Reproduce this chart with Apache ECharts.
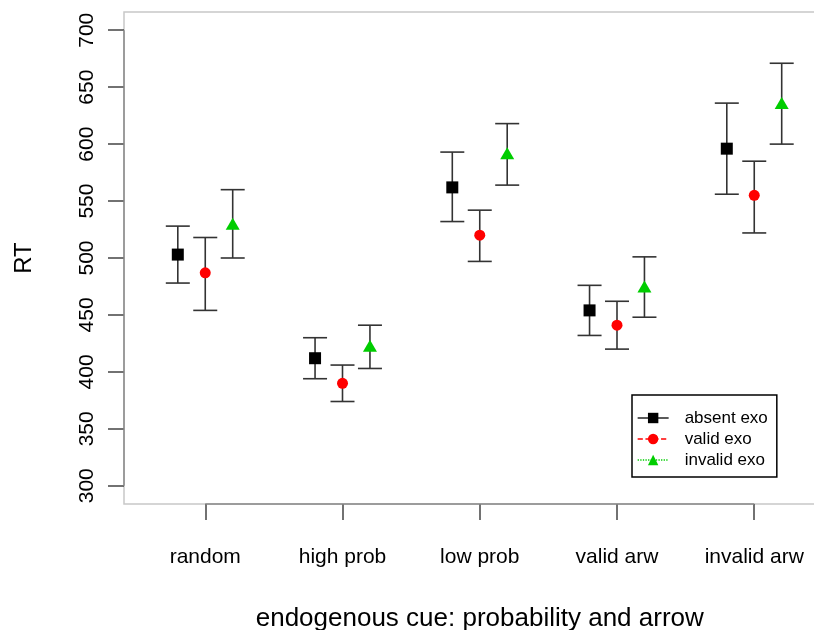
<!DOCTYPE html>
<html>
<head>
<meta charset="utf-8">
<script src="https://cdn.jsdelivr.net/npm/echarts@6/dist/echarts.min.js"></script>
<style>
  html, body { margin: 0; padding: 0; background: #fff; overflow: hidden; }
  #chart { width: 814px; height: 630px; }
</style>
</head>
<body>
<div id="chart"></div>
<script>
// cue categories and tick values
const categories = ['random', 'high prob', 'low prob', 'valid arw', 'invalid arw'];
const yTicks = [300, 350, 400, 450, 500, 550, 600, 650, 700];

// mean RT and error bar limits per exo condition
const absentMean = [503, 412, 562, 454, 596];
const absentLow = [478, 394, 532, 432, 556];
const absentHigh = [528, 430, 593, 476, 636];

const validMean = [487, 390, 520, 441, 555];
const validLow = [454, 374, 497, 420, 522];
const validHigh = [518, 406, 542, 462, 585];

const invalidMean = [530, 423, 592, 475, 636];
const invalidLow = [500, 403, 564, 448, 600];
const invalidHigh = [560, 441, 618, 501, 671];

const offsets = [-0.2, 0, 0.2];
const colors = ['#000000', '#ff0000', '#00cd00'];
const names = ['absent exo', 'valid exo', 'invalid exo'];

const means = [absentMean, validMean, invalidMean];
const lows = [absentLow, validLow, invalidLow];
const highs = [absentHigh, validHigh, invalidHigh];

const X_MIN = 0.408, X_MAX = 5.592;
const Y_MIN = 284, Y_MAX = 716;
const FONT = 'Liberation Sans, Arial, sans-serif';

let barData = [];
means.forEach((m, s) => {
  m.forEach((v, i) => {
    barData.push([i + 1 + offsets[s], lows[s][i], highs[s][i]]);
  });
});

function renderBar(params, api) {
  const x = api.value(0);
  const lo = api.coord([x, api.value(1)]);
  const hi = api.coord([x, api.value(2)]);
  const w = 12;
  const style = { stroke: '#333', lineWidth: 1.6 };
  return {
    type: 'group',
    children: [
      { type: 'line', shape: { x1: lo[0], y1: lo[1], x2: hi[0], y2: hi[1] }, style: style },
      { type: 'line', shape: { x1: lo[0] - w, y1: lo[1], x2: lo[0] + w, y2: lo[1] }, style: style },
      { type: 'line', shape: { x1: hi[0] - w, y1: hi[1], x2: hi[0] + w, y2: hi[1] }, style: style },
    ],
  };
}

const symbols = ['rect', 'circle', 'triangle'];
const symbolSizes = [12, 11, [14, 12]];
const lineTypes = ['solid', 'dashed', 'dotted'];

let pointSeries = means.map((m, s) => ({
  name: names[s],
  type: 'line',
  data: m.map((v, i) => [i + 1 + offsets[s], v]),
  symbol: symbols[s],
  symbolSize: symbolSizes[s],
  showAllSymbol: true,
  lineStyle: { opacity: 0 },
  itemStyle: { color: colors[s] },
  z: 5,
  silent: true,
  animation: false,
}));

const options = {
  animation: false,
  grid: {
    left: 124,
    top: 12,
    width: 711.5,
    bottom: 126,
    outerBoundsMode: 'none',
    containLabel: false,
    show: true,
    borderColor: '#c8c8c8',
    borderWidth: 1.5,
  },
  legend: {
    orient: 'vertical',
    left: 632,
    top: 395,
    data: names.map((n, s) => ({
      name: n,
      itemStyle: { color: colors[s] },
      lineStyle: { color: colors[s], width: 1.3, type: lineTypes[s], opacity: 1 },
    })),
    itemWidth: 31,
    itemHeight: 13,
    itemGap: 1,
    padding: [13, 9, 7, 5],
    borderColor: '#000',
    borderWidth: 1.5,
    borderRadius: 0,
    textStyle: {
      fontFamily: FONT,
      fontSize: 17,
      color: '#000',
      lineHeight: 20,
      padding: [0, 0, 0, 11],
    },
    selectedMode: false,
  },
  xAxis: {
    type: 'value',
    min: X_MIN,
    max: X_MAX,
    name: 'endogenous cue: probability and arrow',
    nameLocation: 'middle',
    nameGap: 102,
    nameTextStyle: { fontFamily: FONT, fontSize: 26, color: '#000' },
    axisLine: { show: false, onZero: false },
    splitLine: { show: false },
    axisTick: {
      show: true,
      length: 16,
      customValues: categories.map((c, i) => i + 1),
      lineStyle: { color: '#444', width: 1.5 },
    },
    axisLabel: {
      customValues: categories.map((c, i) => i + 1),
      formatter: (v) => categories[Math.round(v) - 1],
      margin: 43,
      fontFamily: FONT,
      fontSize: 21,
      color: '#000',
    },
  },
  yAxis: {
    type: 'value',
    min: Y_MIN,
    max: Y_MAX,
    name: 'RT',
    nameLocation: 'middle',
    nameGap: 88,
    nameTextStyle: { fontFamily: FONT, fontSize: 24, color: '#000' },
    axisLine: { show: false, onZero: false },
    splitLine: { show: false },
    axisTick: {
      show: true,
      length: 16,
      customValues: yTicks,
      lineStyle: { color: '#444', width: 1.5 },
    },
    axisLabel: {
      customValues: yTicks,
      rotate: 90,
      margin: 26,
      fontFamily: FONT,
      fontSize: 21,
      color: '#000',
    },
  },
  series: [
    {
      type: 'custom',
      renderItem: renderBar,
      data: barData,
      encode: { x: 0, y: [1, 2] },
      z: 3,
      silent: true,
      markLine: {
        silent: true,
        symbol: ['none', 'none'],
        label: { show: false },
        lineStyle: { color: '#888', width: 1.5, type: 'solid' },
        data: [
          [{ coord: [X_MIN, yTicks[0]] }, { coord: [X_MIN, yTicks[yTicks.length - 1]] }],
          [{ coord: [1, Y_MIN] }, { coord: [categories.length, Y_MIN] }],
        ],
      },
    },
    ...pointSeries,
  ],
};

let chartDom = document.getElementById('chart');
let myChart = echarts.init(chartDom, null, { renderer: 'canvas' });
myChart.setOption(options);
</script>
</body>
</html>
